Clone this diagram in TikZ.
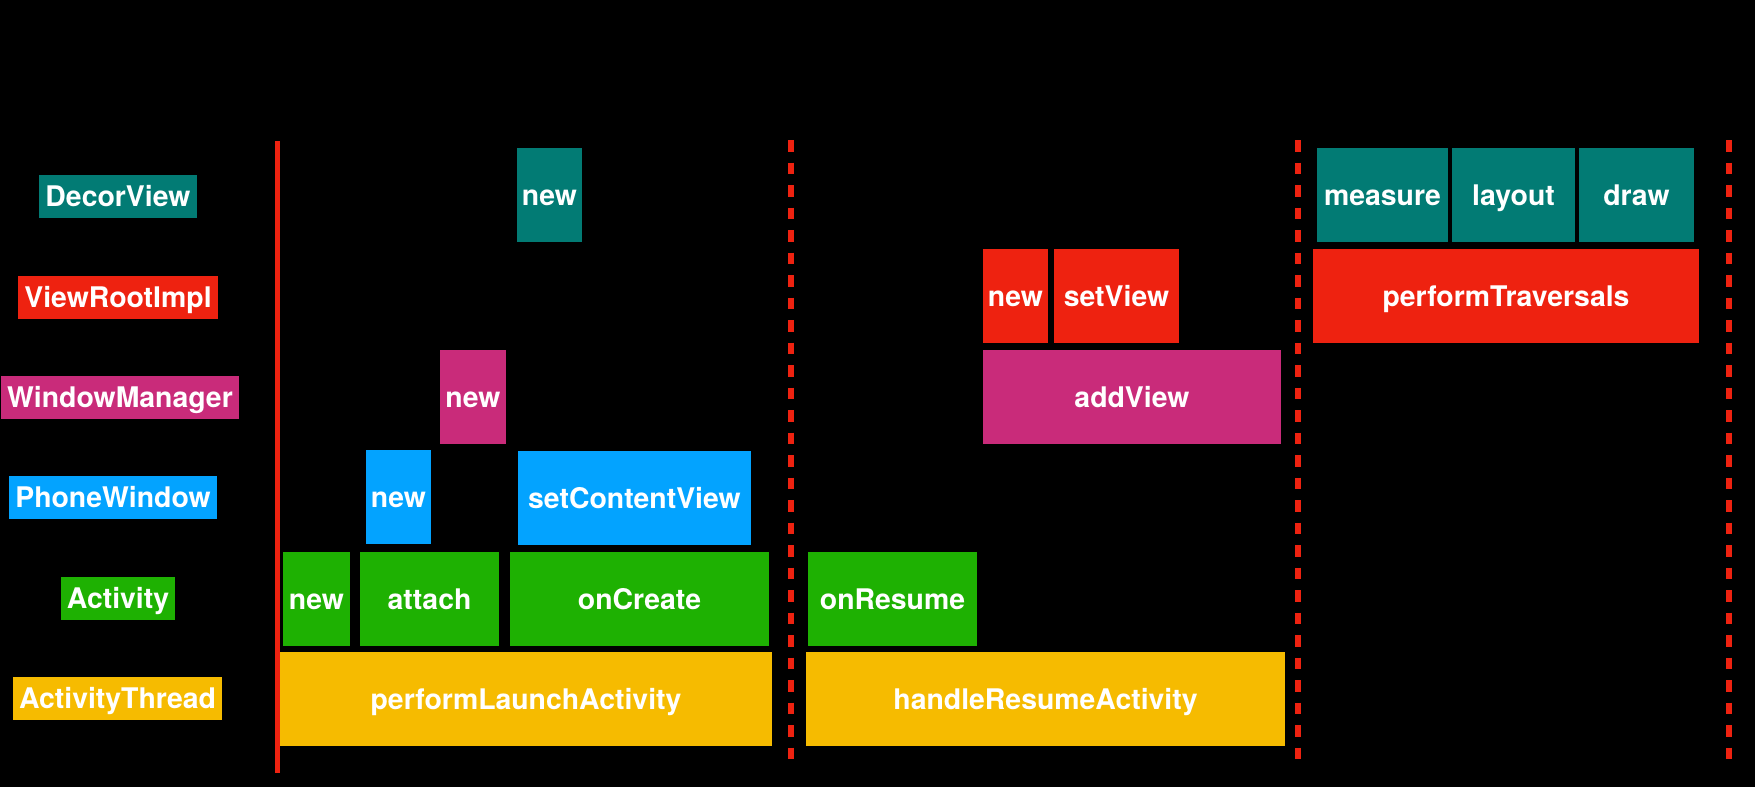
\documentclass[tikz,border=0pt]{standalone}
\usepackage{fontspec}
\setmainfont{TeX Gyre Heros}
\usepackage{tikz}
\definecolor{dvcol}{HTML}{027B74}
\definecolor{vricol}{HTML}{EE2210}
\definecolor{wmcol}{HTML}{C92B7A}
\definecolor{pwcol}{HTML}{03A3FF}
\definecolor{actcol}{HTML}{1EB102}
\definecolor{atcol}{HTML}{F6BB00}

\begin{document}
\begin{tikzpicture}[x=1pt,y=-1pt,
    every node/.style={inner sep=0pt, text=white, text height=20.5pt, text depth=0pt,
        font=\fontsize{28.4}{34}\selectfont\bfseries},
    box/.style={minimum height=94pt},
    lane/.style={inner xsep=6pt, minimum height=43pt},
    sepline/.style={vricol, line width=6pt, dash pattern=on 11.7pt off 10.8pt}]
    \fill[black] (0,0) rectangle (1755,787);
    \node[lane, fill=dvcol]  (lDecor)  at (118,196) {DecorView};
    \node[lane, fill=vricol] (lRoot)   at (118,297) {ViewRootImpl};
    \node[lane, fill=wmcol]  (lWinMgr) at (120,397) {WindowManager};
    \node[lane, fill=pwcol]  (lPhone)  at (113,497) {PhoneWindow};
    \node[lane, fill=actcol] (lAct)    at (118,598) {Activity};
    \node[lane, fill=atcol]  (lThread) at (117.5,698) {ActivityThread};
    \coordinate (s0) at (277,141);   \coordinate (s1) at (277,773);
    \coordinate (d0) at (790.7,140); \coordinate (d1) at (790.7,766);
    \coordinate (e0) at (1298,140);  \coordinate (e1) at (1298,766);
    \coordinate (f0) at (1729,140);  \coordinate (f1) at (1729,766);
    \draw[vricol, line width=5pt] (s0) -- (s1);
    \draw[sepline] (d0) -- (d1);
    \draw[sepline] (e0) -- (e1);
    \draw[sepline] (f0) -- (f1);
    \node[box, fill=dvcol, minimum width=65pt]  (dvNew)   at (549.5,195) {new};
    \node[box, fill=dvcol, minimum width=131pt] (measure) at (1382.5,195) {measure};
    \node[box, fill=dvcol, minimum width=123pt] (layout)  at (1513.5,195) {layout};
    \node[box, fill=dvcol, minimum width=115pt] (drawV)   at (1636.5,195) {draw};
    \node[box, fill=vricol, minimum width=65pt]  (vriNew)   at (1015.5,296) {new};
    \node[box, fill=vricol, minimum width=125pt] (setView)  at (1116.5,296) {setView};
    \node[box, fill=vricol, minimum width=386pt] (perfTrav) at (1506,296) {performTraversals};
    \node[box, fill=wmcol, minimum width=66pt]  (wmNew)   at (473,397) {new};
    \node[box, fill=wmcol, minimum width=298pt] (addView) at (1132,397) {addView};
    \node[box, fill=pwcol, minimum width=65pt]  (pwNew)      at (398.5,497) {new};
    \node[box, fill=pwcol, minimum width=233pt] (setContent) at (634.5,498) {setContentView};
    \node[box, fill=actcol, minimum width=67pt]  (actNew)   at (316.5,599) {new};
    \node[box, fill=actcol, minimum width=139pt] (attach)   at (429.5,599) {attach};
    \node[box, fill=actcol, minimum width=259pt] (onCreate) at (639.5,599) {onCreate};
    \node[box, fill=actcol, minimum width=169pt] (onResume) at (892.5,599) {onResume};
    \node[box, fill=atcol, minimum width=492pt] (perfLaunch)   at (526,699) {performLaunchActivity};
    \node[box, fill=atcol, minimum width=479pt] (handleResume) at (1045.5,699) {handleResumeActivity};
\end{tikzpicture}
\end{document}
